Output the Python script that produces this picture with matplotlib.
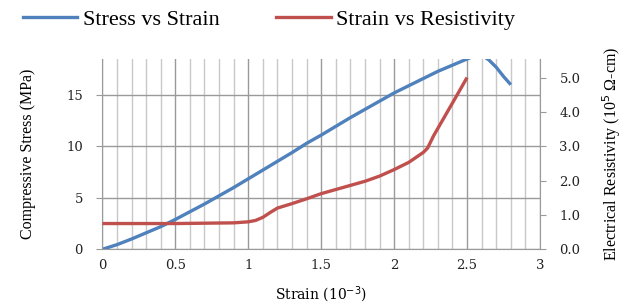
import matplotlib
matplotlib.use("Agg")
import matplotlib.pyplot as plt
from matplotlib.lines import Line2D
from matplotlib.ticker import MultipleLocator

# Data
stress_strain = [0, 0.1, 0.2, 0.3, 0.4, 0.5, 0.6, 0.7, 0.8, 0.9, 1.0, 1.1, 1.2, 1.3, 1.4,
                 1.5, 1.6, 1.7, 1.8, 1.9, 2.0, 2.1, 2.2, 2.3, 2.4, 2.5, 2.55, 2.6, 2.65,
                 2.7, 2.75, 2.8]
stress = [0, 0.45, 1.0, 1.6, 2.2, 2.9, 3.65, 4.4, 5.2, 6.0, 6.85, 7.7, 8.55, 9.4, 10.3,
          11.1, 11.95, 12.8, 13.6, 14.4, 15.2, 15.9, 16.6, 17.3, 17.9, 18.5, 18.8, 18.9, 18.4,
          17.7, 16.8, 16.0]
res_strain = [0, 0.5, 0.9, 1.0, 1.05, 1.1, 1.15, 1.2, 1.3, 1.4, 1.5, 1.6, 1.7, 1.8, 1.9,
              2.0, 2.1, 2.2, 2.23, 2.27, 2.35, 2.43, 2.5]
resistivity = [0.75, 0.75, 0.77, 0.8, 0.84, 0.93, 1.07, 1.2, 1.33, 1.47, 1.62, 1.74, 1.86,
               1.98, 2.13, 2.32, 2.53, 2.82, 2.95, 3.3, 3.89, 4.48, 5.0]
x_ticks = [0, 0.5, 1, 1.5, 2, 2.5, 3]
x_tick_labels = ["0", "0.5", "1", "1.5", "2", "2.5", "3"]
left_ticks = [0, 5, 10, 15]
right_ticks = [0, 1, 2, 3, 4, 5]
right_tick_labels = ["0.0", "1.0", "2.0", "3.0", "4.0", "5.0"]

BLUE = "#4F81BD"
RED = "#C0504D"
SERIF = "Liberation Serif"
TICKFONT = "DejaVu Serif"

fig = plt.figure(figsize=(6.29, 3.05), dpi=100)
ax = fig.add_axes([0.1627, 0.1826, 0.8585 - 0.1627, 0.8066 - 0.1826])
ax2 = ax.twinx()

ax.set_xlim(0, 3)
ax.set_ylim(0, 18.5)
ax2.set_ylim(0, 5.54)

# grids
ax.xaxis.set_minor_locator(MultipleLocator(0.1))
ax.grid(which="minor", axis="x", color="#c8c8c8", lw=1.0)
ax.grid(which="major", axis="x", color="#9a9a9a", lw=1.0)
ax.grid(which="major", axis="y", color="#9a9a9a", lw=1.0)
ax.set_axisbelow(True)

ax.plot(stress_strain, stress, color=BLUE, lw=2.4, solid_capstyle="butt")
ax2.plot(res_strain, resistivity, color=RED, lw=2.4, solid_capstyle="butt")

for a in (ax, ax2):
    for s in a.spines.values():
        s.set_visible(False)
ax.spines["left"].set_visible(True)
ax.spines["left"].set_color("#9a9a9a")
ax.spines["bottom"].set_visible(True)
ax.spines["bottom"].set_color("#9a9a9a")
ax2.spines["right"].set_visible(True)
ax2.spines["right"].set_color("#9a9a9a")

ax.set_xticks(x_ticks)
ax.set_xticklabels(x_tick_labels, fontfamily=TICKFONT, fontsize=9.5)
ax.set_yticks(left_ticks)
ax.set_yticklabels([str(v) for v in left_ticks], fontfamily=TICKFONT, fontsize=9.5)
ax2.set_yticks(right_ticks)
ax2.set_yticklabels(right_tick_labels, fontfamily=TICKFONT, fontsize=9.5)

ax.tick_params(axis="x", which="both", length=0, pad=7, colors="#9a9a9a", labelcolor="#222222")
ax.tick_params(axis="y", length=4, pad=10, color="#9a9a9a", labelcolor="#222222")
ax2.tick_params(axis="y", length=4, pad=10, color="#9a9a9a", labelcolor="#222222")

ax.set_xlabel("Strain (10$^{-3}$)", fontfamily=TICKFONT, fontsize=10, labelpad=9)
ax.set_ylabel("Compressive Stress (MPa)", fontfamily=SERIF, fontsize=11.5, labelpad=22)
ax2.set_ylabel("Electrical Resistivity (10$^{5}$ Ω-cm)", fontfamily=SERIF, fontsize=11.5,
               labelpad=14)

handles = [Line2D([], [], color=BLUE, lw=2.4), Line2D([], [], color=RED, lw=2.4)]
fig.legend(handles, ["Stress vs Strain", "Strain vs Resistivity"], loc="center",
           bbox_to_anchor=(269 / 629, 1 - 20 / 305), ncol=2, frameon=False,
           prop={"family": SERIF, "size": 16}, handlelength=2.45, handletextpad=0.25,
           columnspacing=2.55, borderpad=0)

fig.savefig("out.png", dpi=100)
